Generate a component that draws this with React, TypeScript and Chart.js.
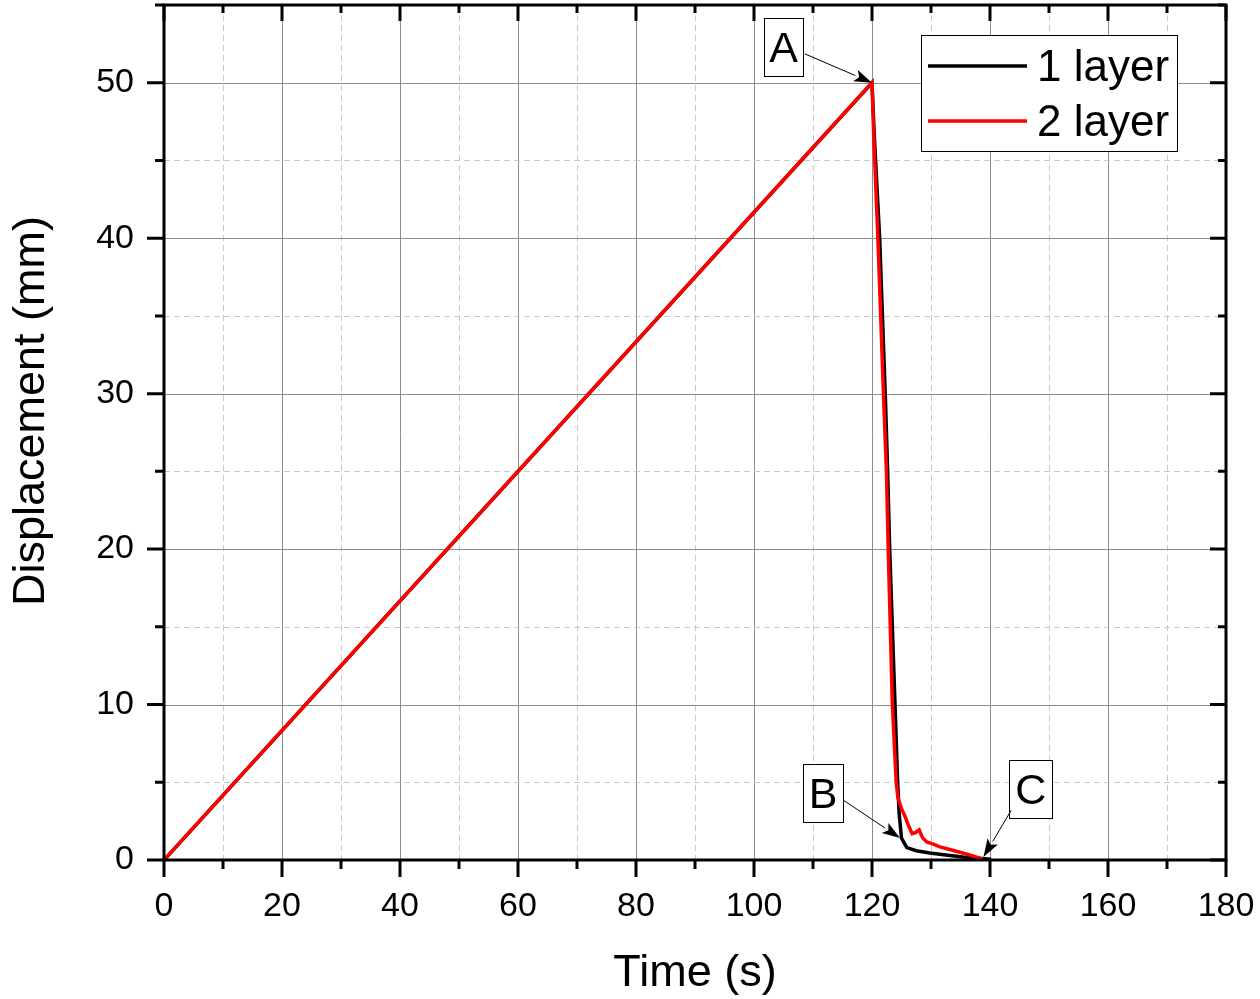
import React, { useEffect, useRef } from "react";
import { Chart, registerables } from "chart.js";

Chart.register(...registerables);

// 1 layer
const time1 = [0, 120, 120.4, 121.3, 122.3, 122.65, 123.0, 123.45, 123.9, 124.35, 124.6, 125.0, 125.9, 127.5, 129.8, 132.5, 135.4, 138.0, 140.2];
const disp1 = [0, 50, 46.5, 40, 29.4, 25, 20, 15, 10, 5, 3, 1.4, 0.8, 0.6, 0.45, 0.32, 0.2, 0.12, 0.05];

// 2 layer
const time2 = [0, 120, 120.3, 121.0, 122.0, 122.45, 122.75, 123.1, 123.45, 124.1, 124.4, 125.0, 125.6, 126.2, 126.8, 127.3, 128.0, 128.6, 129.3, 130.5, 131.5, 132.7, 134.9, 136.8, 138.8];
const disp2 = [0, 50, 46.5, 40, 29.4, 25, 20, 15, 10, 5, 4, 3.3, 2.8, 2.2, 1.7, 1.75, 1.93, 1.41, 1.16, 1.0, 0.84, 0.72, 0.5, 0.3, 0.05];

const seriesNames = ["1 layer", "2 layer"];
const seriesColors = ["#000000", "#ff0000"];

const xTickValues = [0, 20, 40, 60, 80, 100, 120, 140, 160, 180];
const yTickValues = [0, 10, 20, 30, 40, 50];

// labelled points: box centre, arrow tail, arrow tip (data units)
const notes = [
  { label: "A", bx: 105.0, by: 52.31, w: 39, tx: 108.6, ty: 51.86, px: 120, py: 50 },
  { label: "B", bx: 111.7, by: 4.31, w: 40, tx: 115.1, ty: 3.86, px: 124.75, py: 1.41 },
  { label: "C", bx: 146.9, by: 4.56, w: 43, tx: 143.6, ty: 3.2, px: 138.9, py: 0.2 },
];

const FONT = "'Liberation Sans', Arial, sans-serif";
const LINE_W = 3.5;

const toPoints = (xs: number[], ys: number[]) => xs.map((x, i) => ({ x, y: ys[i] }));

const framePlugin = {
  id: "frame",
  beforeDatasetsDraw(chart: any) {
    const { ctx, chartArea: a, scales } = chart;
    const x = scales.x;
    const y = scales.y;
    ctx.save();
    ctx.lineWidth = 1;
    for (let v = 10; v < 180; v += 10) {
      const px = Math.round(x.getPixelForValue(v)) + 0.5;
      const major = v % 20 === 0;
      ctx.strokeStyle = major ? "#8c8c8c" : "#c8c8c8";
      ctx.setLineDash(major ? [] : [6, 4]);
      ctx.beginPath();
      ctx.moveTo(px, a.top);
      ctx.lineTo(px, a.bottom);
      ctx.stroke();
    }
    for (let v = 5; v < 55; v += 5) {
      const py = Math.round(y.getPixelForValue(v)) + 0.5;
      const major = v % 10 === 0;
      ctx.strokeStyle = major ? "#8c8c8c" : "#c8c8c8";
      ctx.setLineDash(major ? [] : [6, 4]);
      ctx.beginPath();
      ctx.moveTo(a.left, py);
      ctx.lineTo(a.right, py);
      ctx.stroke();
    }
    ctx.restore();
  },
  afterDraw(chart: any) {
    const { ctx, chartArea: a, scales } = chart;
    const x = scales.x;
    const y = scales.y;
    ctx.save();
    ctx.setLineDash([]);
    ctx.strokeStyle = "#000";
    ctx.lineWidth = 3;
    ctx.strokeRect(a.left, a.top, a.right - a.left, a.bottom - a.top);

    // ticks: outward on bottom/left, inward on top/right
    for (let v = 0; v <= 180; v += 10) {
      const px = x.getPixelForValue(v);
      const len = v % 20 === 0 ? 17 : 9;
      ctx.beginPath();
      ctx.moveTo(px, a.bottom);
      ctx.lineTo(px, a.bottom + len);
      ctx.moveTo(px, a.top);
      ctx.lineTo(px, a.top + len - 1);
      ctx.stroke();
    }
    for (let v = 0; v <= 55; v += 5) {
      const py = y.getPixelForValue(v);
      const len = v % 10 === 0 ? 17 : 9;
      ctx.beginPath();
      ctx.moveTo(a.left, py);
      ctx.lineTo(a.left - len, py);
      ctx.moveTo(a.right, py);
      ctx.lineTo(a.right - len + 1, py);
      ctx.stroke();
    }

    // axis titles
    ctx.fillStyle = "#000";
    ctx.font = `45px ${FONT}`;
    ctx.textAlign = "center";
    ctx.textBaseline = "alphabetic";
    ctx.fillText("Time (s)", (a.left + a.right) / 2, 986);
    ctx.save();
    ctx.translate(44, 411);
    ctx.rotate(-Math.PI / 2);
    ctx.fillText("Displacement (mm)", 0, 0);
    ctx.restore();

    // legend
    ctx.lineWidth = 1;
    ctx.fillStyle = "#fff";
    ctx.fillRect(921.5, 35.5, 256, 116);
    ctx.strokeStyle = "#000";
    ctx.strokeRect(921.5, 35.5, 256, 116);
    ctx.font = `44px ${FONT}`;
    ctx.textAlign = "left";
    seriesNames.forEach((name, i) => {
      const ly = 66 + i * 55;
      ctx.strokeStyle = seriesColors[i];
      ctx.lineWidth = LINE_W;
      ctx.beginPath();
      ctx.moveTo(928, ly);
      ctx.lineTo(1027, ly);
      ctx.stroke();
      ctx.fillStyle = "#000";
      ctx.fillText(name, 1037, ly + 15);
    });

    // labelled arrows
    ctx.font = `43px ${FONT}`;
    notes.forEach((n) => {
      const cx = x.getPixelForValue(n.bx);
      const cy = y.getPixelForValue(n.by);
      const h = 58;
      ctx.fillStyle = "#fff";
      ctx.fillRect(cx - n.w / 2, cy - h / 2, n.w, h);
      ctx.strokeStyle = "#000";
      ctx.lineWidth = 1;
      ctx.strokeRect(Math.round(cx - n.w / 2) + 0.5, Math.round(cy - h / 2) + 0.5, n.w, h);
      ctx.fillStyle = "#000";
      ctx.textAlign = "center";
      ctx.fillText(n.label, cx, cy + 15);

      const sx = x.getPixelForValue(n.tx);
      const sy = y.getPixelForValue(n.ty);
      const ex = x.getPixelForValue(n.px);
      const ey = y.getPixelForValue(n.py);
      const ang = Math.atan2(ey - sy, ex - sx);
      const hl = 18;
      const hw = 6;
      const bx = ex - hl * Math.cos(ang);
      const by = ey - hl * Math.sin(ang);
      ctx.beginPath();
      ctx.moveTo(sx, sy);
      ctx.lineTo(bx, by);
      ctx.stroke();
      ctx.beginPath();
      ctx.moveTo(ex, ey);
      ctx.lineTo(bx - hw * Math.sin(ang), by + hw * Math.cos(ang));
      ctx.lineTo(bx + 4 * Math.cos(ang), by + 4 * Math.sin(ang));
      ctx.lineTo(bx + hw * Math.sin(ang), by - hw * Math.cos(ang));
      ctx.closePath();
      ctx.fill();
    });
    ctx.restore();
  },
};

const App = () => {
  const canvasRef = useRef<HTMLCanvasElement | null>(null);

  useEffect(() => {
    const ctx = canvasRef.current?.getContext("2d");
    if (!ctx) return;

    const chart = new Chart(ctx, {
      type: "line",
      data: {
        datasets: [
          {
            label: seriesNames[0],
            data: toPoints(time1, disp1),
            borderColor: seriesColors[0],
            borderWidth: LINE_W,
            pointRadius: 0,
            tension: 0,
            order: 1,
          },
          {
            label: seriesNames[1],
            data: toPoints(time2, disp2),
            borderColor: seriesColors[1],
            borderWidth: LINE_W,
            pointRadius: 0,
            tension: 0,
            order: 0,
          },
        ],
      },
      options: {
        animation: false,
        responsive: true,
        maintainAspectRatio: false,
        devicePixelRatio: 1,
        layout: { padding: { left: 0, top: 5, right: 34, bottom: 0 } },
        plugins: { legend: { display: false }, tooltip: { enabled: false } },
        scales: {
          x: {
            type: "linear",
            min: 0,
            max: 180,
            afterBuildTicks: (s: any) => {
              s.ticks = xTickValues.map((value) => ({ value }));
            },
            afterFit: (s: any) => {
              s.height = 139;
              s.paddingLeft = 0;
              s.paddingRight = 0;
            },
            ticks: {
              color: "#000",
              padding: 26,
              font: { family: FONT, size: 34 },
              maxRotation: 0,
            },
            grid: { display: false, drawTicks: false },
            border: { display: false },
          },
          y: {
            type: "linear",
            min: 0,
            max: 55,
            afterBuildTicks: (s: any) => {
              s.ticks = yTickValues.map((value) => ({ value }));
            },
            afterFit: (s: any) => {
              s.width = 164;
              s.paddingTop = 0;
              s.paddingBottom = 0;
            },
            ticks: {
              color: "#000",
              padding: 30,
              font: { family: FONT, size: 34 },
            },
            grid: { display: false, drawTicks: false },
            border: { display: false },
          },
        },
      },
      plugins: [framePlugin],
    });

    return () => {
      chart.destroy();
    };
  }, []);

  return (
    <div style={{ position: "absolute", left: 0, top: 0, width: 1260, height: 999, background: "#fff" }}>
      <canvas ref={canvasRef} />
    </div>
  );
};

export default App;
